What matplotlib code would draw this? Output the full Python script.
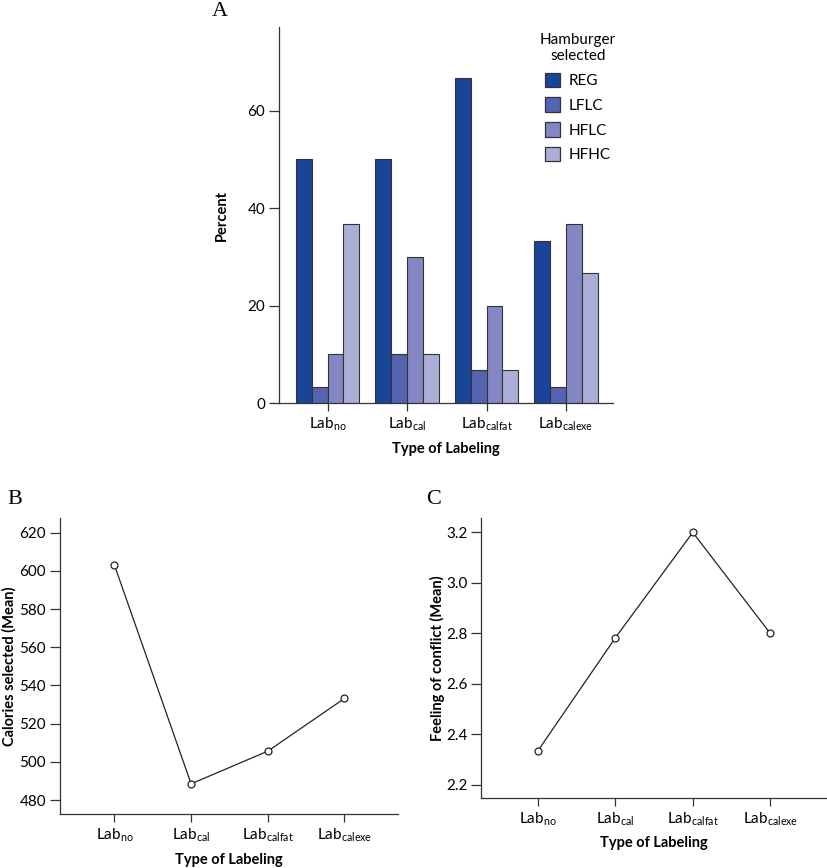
import matplotlib.pyplot as plt
import numpy as np
from matplotlib.patches import Patch

plt.rcParams["font.family"] = ["Lato", "DejaVu Sans"]
plt.rcParams["mathtext.fontset"] = "custom"
plt.rcParams["mathtext.rm"] = "Lato"
plt.rcParams["font.size"] = 11

labelings = ["Lab$_{\\mathrm{no}}$", "Lab$_{\\mathrm{cal}}$",
             "Lab$_{\\mathrm{calfat}}$", "Lab$_{\\mathrm{calexe}}$"]
burgers = ["REG", "LFLC", "HFLC", "HFHC"]
burger_colors = ["#1a449a", "#5563b0", "#8388c4", "#adaed8"]

# percent of each hamburger selected, one list per burger type
pct_reg = [50.0, 50.0, 66.7, 33.3]
pct_lflc = [3.3, 10.0, 6.7, 3.3]
pct_hflc = [10.0, 30.0, 20.0, 36.7]
pct_hfhc = [36.7, 10.0, 6.7, 26.7]

calories_mean = [603.0, 488.5, 505.6, 533.2]
conflict_mean = [2.334, 2.782, 3.2, 2.8]

fig = plt.figure(figsize=(8.27, 8.68), dpi=100)


def style_axes(ax, ylabel, ylab_x, xlab_y):
    ax.spines["top"].set_visible(False)
    ax.spines["right"].set_visible(False)
    for s in ("left", "bottom"):
        ax.spines[s].set_linewidth(0.9)
        ax.spines[s].set_color("#333333")
    ax.tick_params(axis="y", length=7, width=0.9, color="#333333", pad=3, labelsize=11)
    ax.tick_params(axis="x", length=6, width=0.9, color="#333333", pad=3, labelsize=11)
    ax.set_xticks(range(len(labelings)))
    ax.set_xticklabels(labelings)
    ax.set_xlabel("Type of Labeling", fontweight="bold", fontsize=10.5, va="center")
    ax.set_ylabel(ylabel, fontweight="bold", fontsize=10.5, va="center")
    ax.xaxis.set_label_coords(0.5, xlab_y)
    ax.yaxis.set_label_coords(ylab_x, 0.5)


def line_panel(ax, values):
    ax.plot(range(len(values)), values, color="#222222", linewidth=0.9, marker="o",
            markersize=5, markerfacecolor="white", markeredgecolor="#222222",
            markeredgewidth=0.9)


# panel A: grouped bars
axA = fig.add_axes([0.3374, 0.5357, 0.4038, 0.4332])
x = np.arange(len(labelings))
width = 0.2
series = [pct_reg, pct_lflc, pct_hflc, pct_hfhc]
for i, vals in enumerate(series):
    axA.bar(x + (i - 1.5) * width, vals, width, color=burger_colors[i],
            edgecolor="#333333", linewidth=0.8, label=burgers[i])
axA.set_xlim(-0.61, 3.59)
axA.set_ylim(0, 77.2)
axA.set_yticks([0, 20, 40, 60])
style_axes(axA, "Percent", -0.172, -0.122)
handles = [Patch(facecolor=c, edgecolor="#333333", linewidth=0.9) for c in burger_colors]
leg = axA.legend(handles, burgers, title="Hamburger\nselected", loc="upper right",
                 bbox_to_anchor=(1.05, 1.02), frameon=False, handlelength=1.0,
                 handleheight=1.1, handletextpad=0.6, labelspacing=0.6, fontsize=11,
                 title_fontsize=11)
leg.get_title().set_multialignment("center")
leg._legend_box.align = "center"
fig.text(220 / 827, 1 - 12 / 868, "A", family="Liberation Serif", fontsize=16,
         ha="center", va="center")

# panel B: calories
axB = fig.add_axes([0.0726, 0.0622, 0.4087, 0.341])
line_panel(axB, calories_mean)
axB.set_xlim(-0.71, 3.70)
axB.set_ylim(472.7, 627.7)
axB.set_yticks(range(480, 621, 20))
style_axes(axB, "Calories selected (Mean)", -0.151, -0.155)
fig.text(15 / 827, 1 - 500 / 868, "B", family="Liberation Serif", fontsize=16,
         ha="center", va="center")

# panel C: feeling of conflict
axC = fig.add_axes([0.582, 0.0803, 0.4168, 0.3229])
line_panel(axC, conflict_mean)
axC.set_xlim(-0.73, 3.72)
axC.set_ylim(2.146, 3.257)
axC.set_yticks([2.2, 2.4, 2.6, 2.8, 3.0, 3.2])
axC.set_yticklabels(["2.2", "2.4", "2.6", "2.8", "3.0", "3.2"])
style_axes(axC, "Feeling of conflict (Mean)", -0.1285, -0.158)
fig.text(434 / 827, 1 - 500 / 868, "C", family="Liberation Serif", fontsize=16,
         ha="center", va="center")

fig.savefig("out.png", dpi=100)
